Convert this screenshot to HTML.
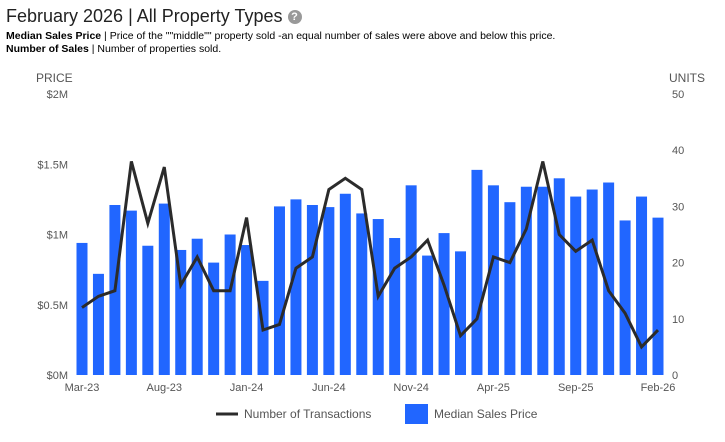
<!DOCTYPE html>
<html><head><meta charset="utf-8"><style>
body{margin:0;background:#fff;font-family:"Liberation Sans",Arial,sans-serif;}
#wrap{position:relative;width:725px;height:442px;overflow:hidden}
.t{position:absolute;white-space:nowrap}
</style></head><body>
<div id="wrap">
<div class="t" style="left:6px;top:6px;font-size:18px;color:#222">February 2026 | All Property Types <span style="display:inline-block;width:14px;height:14px;border-radius:50%;background:#999;color:#fff;font-size:11px;font-weight:bold;text-align:center;line-height:14px;vertical-align:2px">?</span></div>
<div class="t" style="left:6px;top:30px;font-size:10.5px;color:#000"><b>Median Sales Price</b> | Price of the ""middle"" property sold -an equal number of sales were above and below this price.</div>
<div class="t" style="left:6px;top:43px;font-size:10.5px;color:#000"><b>Number of Sales</b> | Number of properties sold.</div>
<svg id="c" width="725" height="442" style="position:absolute;left:0;top:0"></svg>
</div>
<script>
const months=["Mar-23","Apr-23","May-23","Jun-23","Jul-23","Aug-23","Sep-23","Oct-23","Nov-23","Dec-23","Jan-24","Feb-24","Mar-24","Apr-24","May-24","Jun-24","Jul-24","Aug-24","Sep-24","Oct-24","Nov-24","Dec-24","Jan-25","Feb-25","Mar-25","Apr-25","May-25","Jun-25","Jul-25","Aug-25","Sep-25","Oct-25","Nov-25","Dec-25","Jan-26","Feb-26"];
const prices=[0.94,0.72,1.21,1.17,0.92,1.22,0.89,0.97,0.80,1.00,0.925,0.67,1.20,1.25,1.21,1.195,1.29,1.15,1.11,0.975,1.35,0.85,1.01,0.88,1.46,1.35,1.23,1.34,1.34,1.40,1.27,1.32,1.37,1.10,1.27,1.12];
const units=[12,14,15,38,27,37,16,21,15,15,28,8,9,19,21,33,35,33,14,19,21,24,16,7,10,21,20,26,38,25,22,24,15,11,5,8];
const xLabels=["Mar-23","Aug-23","Jan-24","Jun-24","Nov-24","Apr-25","Sep-25","Feb-26"];
const priceTicks=["$0M","$0.5M","$1M","$1.5M","$2M"];
const unitTicks=[0,10,20,30,40,50];
const NS="http://www.w3.org/2000/svg",svg=document.getElementById('c');
const x0=82,dx=(658-82)/35,yb=375,yt=94;
const X=i=>x0+dx*i, YP=v=>yb-(v/2)*(yb-yt), YU=v=>yb-(v/50)*(yb-yt);
function mk(t,a){const e=document.createElementNS(NS,t);for(const k in a)e.setAttribute(k,a[k]);svg.appendChild(e);return e;}
function tx(x,y,s,anchor,size,col){const e=mk('text',{x:x,y:y,'text-anchor':anchor,'font-size':size,fill:col,'font-family':'Liberation Sans, Arial, sans-serif'});e.textContent=s;return e;}
let e=tx(36,82,"PRICE","start",12,"#555");

e=tx(669,82,"UNITS","start",12,"#555");

priceTicks.forEach((s,i)=>{const t=tx(68,YP(i*0.5)+4,s,"end",11,"#555");

});
unitTicks.forEach(v=>{const t=tx(672,YU(v)+4,String(v),"start",11,"#555");

});
prices.forEach((v,i)=>{const r=mk('rect',{x:X(i)-5.5,y:YP(v),width:11,height:yb-YP(v),fill:'#2166ff'});

});
const p=mk('polyline',{points:units.map((v,i)=>X(i)+','+YU(v)).join(' '),fill:'none',stroke:'#2b2b2b','stroke-width':3,'stroke-linejoin':'miter'});


xLabels.forEach(s=>{const i=months.indexOf(s);const t=tx(X(i),391,s,"middle",11,"#555");

});
const g1=mk('line',{x1:216,y1:414,x2:238,y2:414,stroke:'#2b2b2b','stroke-width':3});


e=tx(244,418,"Number of Transactions","start",12,"#555");

const g2=mk('rect',{x:405,y:404,width:23,height:20,fill:'#2166ff'});


e=tx(434,418,"Median Sales Price","start",12,"#555");

</script>
</body></html>
